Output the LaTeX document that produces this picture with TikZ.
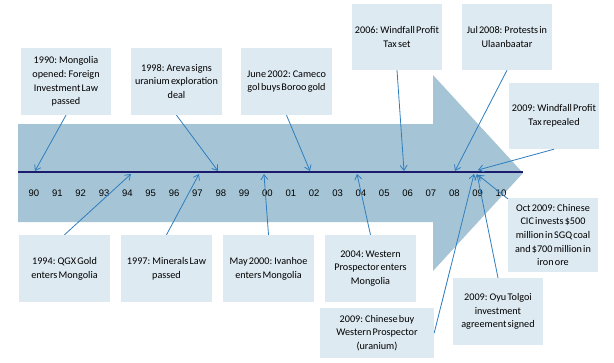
\documentclass[tikz,border=0pt]{standalone}
\usepackage{fontspec}
\setmainfont{Carlito}
\newfontfamily\yearfont{Liberation Sans}
\usetikzlibrary{arrows.meta}
\definecolor{bandc}{RGB}{165,197,214}
\definecolor{boxc}{RGB}{222,234,242}
\definecolor{connc}{RGB}{46,125,190}
\definecolor{linec}{RGB}{28,28,110}
\newcommand{\boxfont}{\fontsize{10.2}{13.7}\selectfont\spaceskip=0.12em plus 0.05em}
\tikzset{
  evbox/.style={fill=boxc, draw=none, inner sep=1pt, align=center, minimum width=90pt, minimum height=67pt, font=\boxfont},
  conn/.style={draw=connc, line width=0.8pt, -{Straight Barb[length=5pt,width=7pt,line width=0.8pt]}},
  yr/.style={font=\yearfont\fontsize{9.5}{11}\selectfont, inner sep=0pt}
}
\begin{document}
\begin{tikzpicture}[x=1pt,y=-1pt]
\useasboundingbox (0,0) rectangle (614,362);
% big arrow
\fill[bandc] (18,124) -- (433,124) -- (433,75) -- (523,173) -- (433,271) -- (433,222) -- (18,222) -- cycle;
% timeline
\coordinate (tl0) at (18,172);
\coordinate (tl1) at (523,172);
\draw[linec, line width=1.8pt] (tl0) -- (tl1);
% years
\foreach \y [count=\i from 0] in {90,91,92,93,94,95,96,97,98,99,00,01,02,03,04,05,06,07,08,09,10}
  \node[yr] (y\i) at ({34+\i*23.35},193) {\y};
% boxes
\node[evbox] (b1) at (66,81.5) {1990: Mongolia\\opened: Foreign\\Investment Law\\passed};
\node[evbox, minimum width=91pt] (b2) at (176.5,81.5) {1998: Areva signs\\uranium exploration\\deal};
\node[evbox, minimum width=91pt] (b3) at (286.5,81.5) {June 2002: Cameco\\gol buys Boroo gold};
\node[evbox, minimum height=66pt] (b4) at (397,37) {2006: Windfall Profit\\Tax set};
\node[evbox, minimum height=66pt] (b5) at (507,37) {Jul 2008: Protests in\\Ulaanbaatar};
\node[evbox, minimum height=66pt] (b6) at (554,116) {2009: Windfall Profit\\Tax repealed};
\node[evbox, minimum height=74pt] (b7) at (553,235) {Oct 2009: Chinese\\CIC invests \$500\\million in SGQ coal\\and \$700 million in\\iron ore};
\node[evbox] (b8) at (498,311.5) {2009: Oyu Tolgoi\\investment\\agreement signed};
\node[evbox, minimum width=114pt, minimum height=50pt] (b9) at (377,333) {2009: Chinese buy\\Western Prospector\\(uranium)};
\node[evbox, minimum width=91pt] (b10) at (370.5,268.5) {2004: Western\\Prospector enters\\Mongolia};
\node[evbox, minimum width=91pt] (b11) at (268.5,268.5) {May 2000: Ivanhoe\\enters Mongolia};
\node[evbox, minimum width=91pt] (b12) at (166.5,268.5) {1997: Minerals Law\\passed};
\node[evbox, minimum width=91pt] (b13) at (64.5,268.5) {1994: QGX Gold\\enters Mongolia};
% target points
\coordinate (t1) at (35,171);
\coordinate (t2) at (218,171);
\coordinate (t3) at (310,171);
\coordinate (t4) at (404,171);
\coordinate (t5) at (455,171);
\coordinate (t6) at (478,170);
\coordinate (t7) at (478,175);
\coordinate (t8) at (477,174);
\coordinate (t9) at (474,174);
\coordinate (t10) at (357,174);
\coordinate (t11) at (264,174);
\coordinate (t12) at (199,174);
\coordinate (t13) at (131,174);
% connectors
\draw[conn] (b1.south) -- (t1);
\draw[conn] (b2.south) -- (t2);
\draw[conn] (b3.south) -- (t3);
\draw[conn] (b4.south) -- (t4);
\draw[conn] (b5.south) -- (t5);
\draw[conn] (b6.south) -- (t6);
\draw[conn] ([yshift=-1pt]b7.north west) -- (t7);
\draw[conn] (b8.north) -- (t8);
\draw[conn] (b9.east) -- (t9);
\draw[conn] (b10.north) -- (t10);
\draw[conn] (b11.north) -- (t11);
\draw[conn] (b12.north) -- (t12);
\draw[conn] (b13.north) -- (t13);
\end{tikzpicture}
\end{document}
